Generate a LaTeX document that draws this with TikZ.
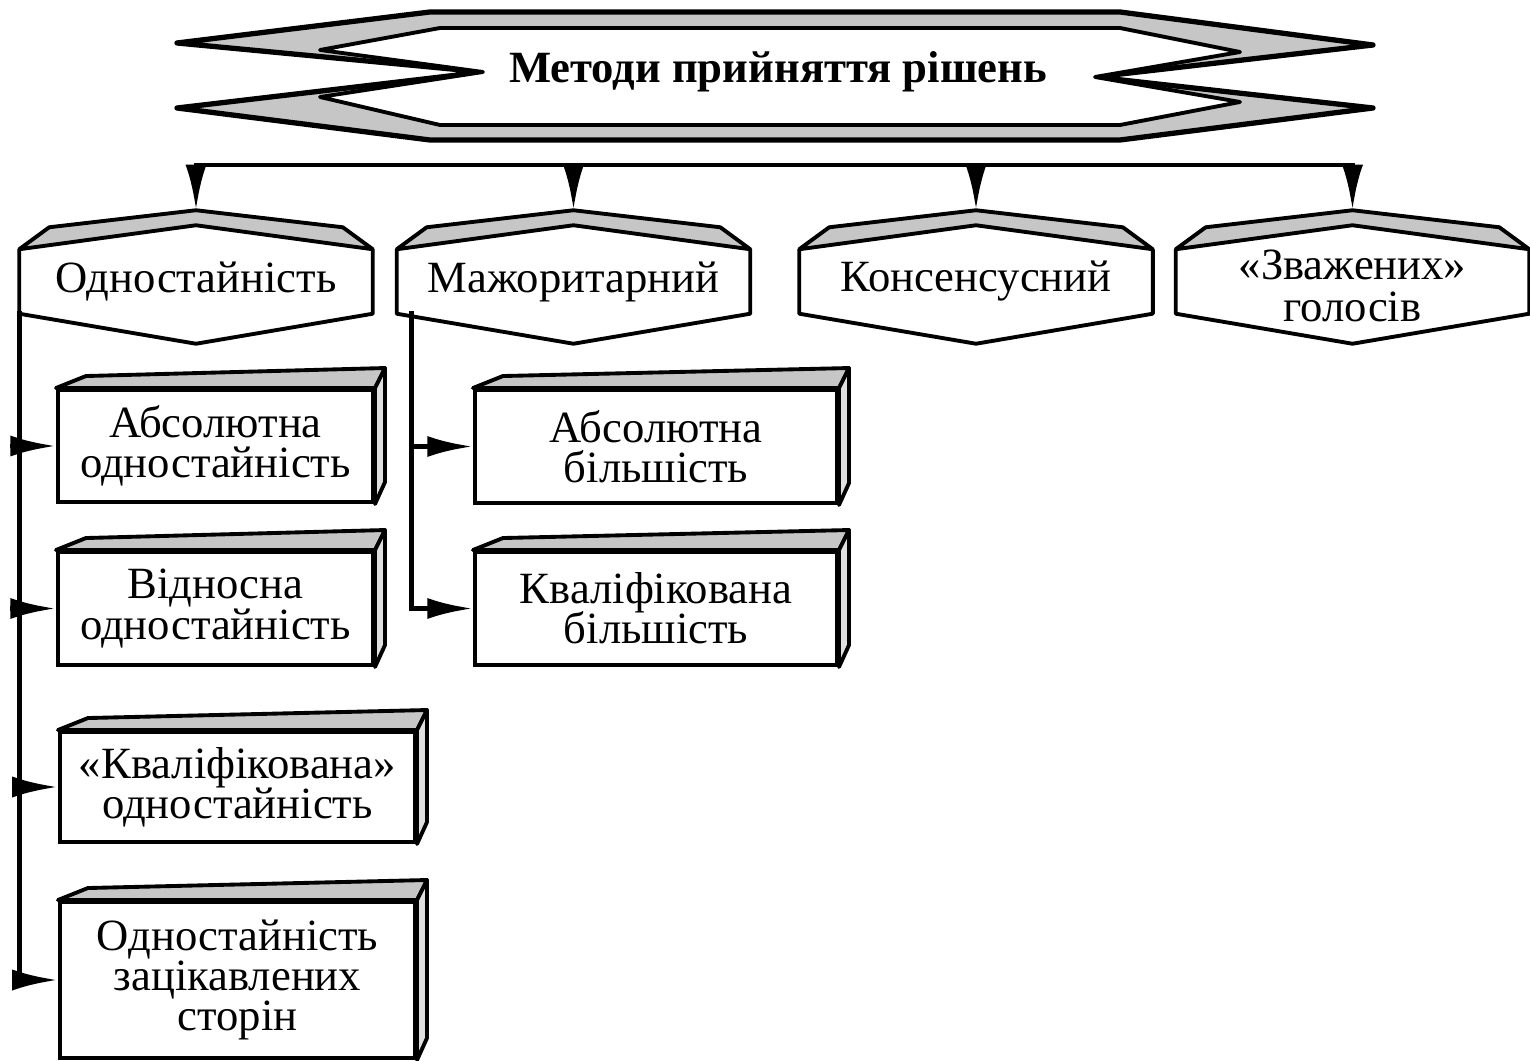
\documentclass[tikz,border=0pt]{standalone}
\usepackage{fontspec}
\setmainfont{Liberation Serif}
\usetikzlibrary{arrows.meta}
\setlength{\lineskiplimit}{-10pt}

\begin{document}
\begin{tikzpicture}[x=0.01cm,y=-0.01cm]

%-------------------------------------------------
% Styles
%-------------------------------------------------
\tikzset{
  line/.style={draw=black, line width=1.4pt, line cap=rect},
  arr/.style={line, -{Latex[length=13pt,width=6pt]}},
  shade/.style={fill=gray!45, draw=black, line width=1.1pt, line join=round},
  lbl/.style={font=\fontsize{12.7pt}{11.4pt}\selectfont, align=center, inner sep=0pt},
  hexa/.style={lbl, minimum width=3.52cm, minimum height=0.63cm},
  box/.style={lbl, draw=black, line width=1.1pt, fill=white},
  title/.style={font=\fontsize{12.7pt}{14pt}\selectfont\bfseries}
}

\useasboundingbox (0,0) rectangle (1530,1061);

%-------------------------------------------------
% Title banner
%-------------------------------------------------
\path[shade, line width=1.5pt] (430,12) -- (1120,12) -- (1373,45) -- (1095,77) -- (1373,108)
  -- (1120,140) -- (430,140) -- (177,108) -- (483,72) -- (177,43) -- cycle;
\path[shade, fill=white] (440,28) -- (1120,28) -- (1240,52) -- (1095,77) -- (1240,102)
  -- (1120,125) -- (440,125) -- (320,97) -- (483,72) -- (320,50) -- cycle;

\node[title] (title) at (778,72) {Методи прийняття рішень};

%-------------------------------------------------
% Methods (hexagons)
%-------------------------------------------------
\node[hexa] (odn)  at (196,281.5)    {Одностайність};
\node[hexa] (maj)  at (573.5,281.5)  {Мажоритарний};
\node[hexa] (kons) at (976,281.5)    {Консенсусний};
\node[hexa] (zv)   at (1352.5,281.5)
  {\raisebox{0.04cm}{\smash{\begin{tabular}[t]{@{}c@{}}«Зважених»\\голосів\end{tabular}}}};

\foreach \n in {odn,maj,kons,zv} {
  % body with pointed bottom
  \draw[line width=1.1pt, line join=round] (\n.north west) -- (\n.south west)
    -- ([yshift=-0.30cm]\n.south) -- (\n.south east) -- (\n.north east);
  % shaded roof
  \path[shade] (\n.north west) -- ++(30,-22) -- ([yshift=0.39cm]\n.north)
    -- ([shift={(-30,-22)}]\n.north east) -- (\n.north east)
    -- ([yshift=0.24cm]\n.north) -- cycle;
  \coordinate (\n-top) at ([yshift=0.39cm]\n.north);
}

%-------------------------------------------------
% Variants (3D boxes)
%-------------------------------------------------
\node[box, minimum width=3.15cm, minimum height=1.12cm] (absod) at (215.5,446)  {Абсолютна\\одностайність};
\node[box, minimum width=3.15cm, minimum height=1.13cm] (vidn)  at (215.5,608.5) {Відносна\\одностайність};
\node[box, minimum width=3.55cm, minimum height=1.10cm] (kval)  at (237.5,787)  {«Кваліфікована»\\одностайність};
\node[box, minimum width=3.55cm, minimum height=1.56cm] (zats)  at (237.5,980)  {Одностайність\\зацікавлених\\сторін};
\node[box, minimum width=3.62cm, minimum height=1.13cm] (absb)  at (656,446.5)  {Абсолютна\\більшість};
\node[box, minimum width=3.62cm, minimum height=1.13cm] (kvalb) at (656,608.5)  {Кваліфікована\\більшість};

\foreach \n in {absod,vidn,kval,zats,absb,kvalb} {
  % top face
  \path[shade] (\n.north west) -- ++(30,-12) -- ([shift={(10,-20)}]\n.north east)
    -- (\n.north east) -- cycle;
  % right face
  \path[shade, fill=gray!25] (\n.north east) -- ++(10,-20)
    -- ([shift={(10,-22)}]\n.south east) -- (\n.south east) -- cycle;
}

%-------------------------------------------------
% Connectors
%-------------------------------------------------
\coordinate (bar) at (0,165);
\draw[line] (odn-top |- bar) -- (zv-top |- bar);
\foreach \n in {odn,maj,kons,zv}
  \draw[arr] (\n-top |- bar) -- (\n-top);

% left trunk
\coordinate (ltrunk) at (odn.south west);
\draw[line] (ltrunk) -- (ltrunk |- zats.west);
\foreach \n in {absod,vidn,kval,zats}
  \draw[arr] (ltrunk |- \n.west) -- (\n.west);

% right trunk
\coordinate (rtrunk) at ([xshift=0.15cm]maj.south west);
\draw[line] (rtrunk) -- (rtrunk |- kvalb.west);
\foreach \n in {absb,kvalb}
  \draw[arr] (rtrunk |- \n.west) -- (\n.west);

\end{tikzpicture}
\end{document}
